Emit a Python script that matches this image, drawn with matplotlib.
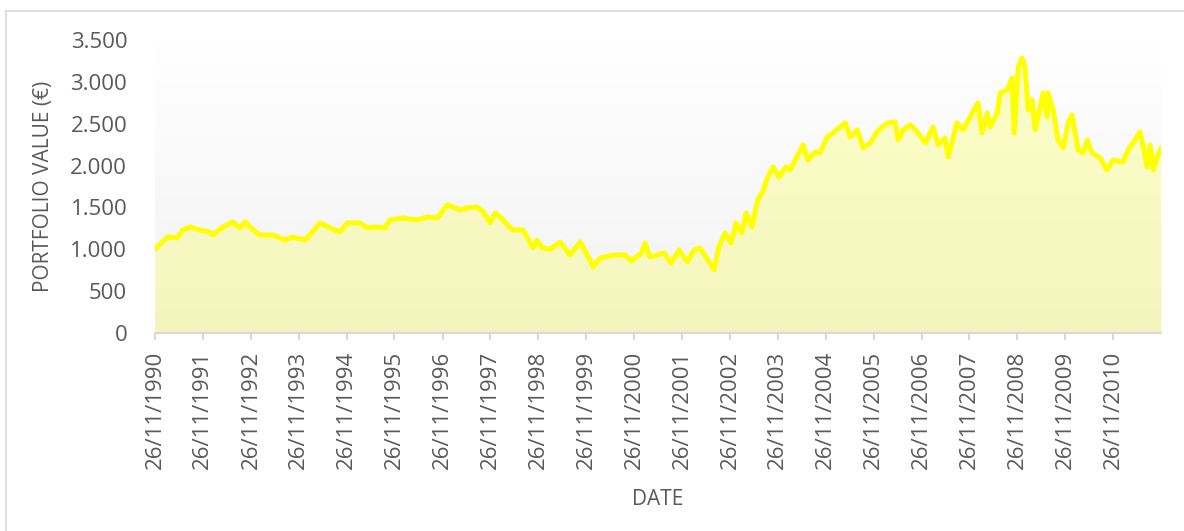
import numpy as np
import pandas as pd
import matplotlib
matplotlib.use("Agg")
import matplotlib.pyplot as plt
import matplotlib.dates as mdates
from matplotlib.ticker import FuncFormatter
from matplotlib.lines import Line2D

# ---- data ----
dates = [
    "1990-11-26", "1990-12-20", "1991-01-10", "1991-03-05", "1991-05-13", "1991-06-26",
    "1991-08-20", "1991-11-03", "1992-01-19", "1992-02-10", "1992-04-27", "1992-07-12",
    "1992-09-02", "1992-10-12", "1992-12-14", "1993-02-03", "1993-05-13", "1993-08-13",
    "1993-10-07", "1994-01-13", "1994-03-09", "1994-05-07", "1994-07-23", "1994-10-08",
    "1994-11-30", "1995-03-09", "1995-05-02", "1995-07-16", "1995-09-15", "1995-10-24",
    "1996-01-31", "1996-05-16", "1996-08-01", "1996-10-17", "1997-01-01", "1997-02-15",
    "1997-04-10", "1997-06-01", "1997-08-16", "1997-10-03", "1997-11-24", "1998-01-02",
    "1998-03-05", "1998-05-10", "1998-08-02", "1998-10-18", "1998-11-16", "1998-12-26",
    "1999-02-26", "1999-05-13", "1999-07-26", "1999-10-11", "1999-12-26", "2000-01-17",
    "2000-03-12", "2000-06-26", "2000-09-18", "2000-11-04", "2001-01-20", "2001-02-18",
    "2001-03-26", "2001-07-13", "2001-09-03", "2001-11-04", "2002-01-05", "2002-02-26",
    "2002-04-12", "2002-06-11", "2002-07-28", "2002-09-03", "2002-10-20", "2002-12-06",
    "2003-01-12", "2003-02-25", "2003-03-30", "2003-05-13", "2003-06-26", "2003-08-05",
    "2003-09-07", "2003-10-21", "2003-12-06", "2004-01-26", "2004-02-28", "2004-04-20",
    "2004-06-06", "2004-07-14", "2004-09-06", "2004-10-13", "2004-12-07", "2005-01-21",
    "2005-03-16", "2005-04-25", "2005-06-01", "2005-07-25", "2005-09-07", "2005-11-01",
    "2005-12-22", "2006-01-31", "2006-03-16", "2006-05-09", "2006-06-01", "2006-07-11",
    "2006-09-01", "2006-10-25", "2006-12-26", "2007-02-22", "2007-04-03", "2007-05-24",
    "2007-06-18", "2007-08-23", "2007-10-10", "2007-12-18", "2008-01-31", "2008-03-01",
    "2008-04-10", "2008-05-02", "2008-06-26", "2008-07-18", "2008-09-11", "2008-10-17",
    "2008-11-01", "2008-12-03", "2009-01-01", "2009-01-23", "2009-02-17", "2009-03-19",
    "2009-04-10", "2009-05-19", "2009-06-10", "2009-07-10", "2009-07-17", "2009-08-26",
    "2009-10-02", "2009-11-11", "2009-12-18", "2010-01-16", "2010-03-05", "2010-04-10",
    "2010-05-13", "2010-06-19", "2010-08-20", "2010-10-10", "2010-11-26", "2011-02-11",
    "2011-03-19", "2011-04-28", "2011-06-19", "2011-07-14", "2011-08-12", "2011-09-04",
    "2011-09-28", "2011-10-27", "2011-11-26",
]
values = [
    1000, 1040, 1070, 1150, 1135, 1230,
    1267, 1230, 1207, 1171, 1267, 1327,
    1255, 1327, 1231, 1171, 1171, 1111,
    1147, 1111, 1207, 1315, 1255, 1207,
    1315, 1315, 1255, 1267, 1255, 1350,
    1374, 1350, 1386, 1374, 1530, 1506,
    1470, 1494, 1506, 1446, 1315, 1434,
    1350, 1231, 1231, 1016, 1111, 1016,
    1000, 1087, 932, 1087, 872, 789,
    896, 932, 932, 860, 956, 1075,
    908, 956, 836, 992, 848, 992,
    1016, 872, 753, 1028, 1195, 1075,
    1315, 1195, 1434, 1267, 1589, 1690,
    1850, 1984, 1864, 1984, 1948, 2103,
    2247, 2067, 2163, 2151, 2342, 2390,
    2462, 2510, 2342, 2426, 2211, 2271,
    2402, 2462, 2510, 2522, 2307, 2426,
    2486, 2402, 2271, 2462, 2247, 2330,
    2103, 2510, 2426, 2629, 2749, 2390,
    2629, 2462, 2629, 2868, 2904, 3047,
    2390, 3179, 3286, 3179, 2665, 2785,
    2426, 2701, 2868, 2581, 2868, 2665,
    2307, 2211, 2510, 2605, 2187, 2151,
    2307, 2151, 2091, 1948, 2067, 2044,
    2187, 2271, 2402, 2223, 1984, 2247,
    1948, 2103, 2211,
]
tick_years = list(range(1990, 2011))
y_ticks = [0, 500, 1000, 1500, 2000, 2500, 3000, 3500]
x_label = "DATE"
y_label = "PORTFOLIO VALUE (€)"

# ---- figure ----
plt.rcParams["font.family"] = ["Open Sans", "DejaVu Sans"]
W, H = 1184, 531
fig = plt.figure(figsize=(W / 100, H / 100), dpi=100)
fig.patch.set_facecolor("white")

ax = fig.add_axes([155 / W, 1 - 333 / H, (1161 - 155) / W, (333 - 40) / H])

x = pd.to_datetime(dates)
xn = mdates.date2num(x)

# background gradient: white at top, light grey at bottom
grad = np.linspace(1.0, 242 / 255, 256).reshape(-1, 1)
grad_rgb = np.dstack([grad, grad, grad])
ax.imshow(grad_rgb, extent=[0, 1, 0, 1], transform=ax.transAxes,
          aspect="auto", zorder=0, interpolation="bilinear")

ax.fill_between(xn, 0, values, color="#ffff00", alpha=0.21, lw=0, zorder=1)
ax.plot(xn, values, color="#ffff00", lw=3.6, zorder=3,
        solid_joinstyle="round", solid_capstyle="round")

ax.set_xlim(mdates.date2num(pd.Timestamp("1990-11-26")), xn[-1])
ax.set_ylim(0, 3500)

for s in ["top", "right", "left"]:
    ax.spines[s].set_visible(False)
ax.spines["bottom"].set_color("#d9d9d9")
ax.spines["bottom"].set_linewidth(1.5)
ax.spines["bottom"].set_zorder(4)

tick_pos = [mdates.date2num(pd.Timestamp(f"{yy}-11-26")) for yy in tick_years]
ax.set_xticks(tick_pos)
ax.set_xticklabels([f"26/11/{yy}" for yy in tick_years], rotation=90,
                   fontsize=16, color="#595959")
ax.tick_params(axis="x", direction="out", length=5, width=1.5, color="#d9d9d9", pad=8)

ax.set_yticks(y_ticks)
ax.yaxis.set_major_formatter(FuncFormatter(lambda v, p: f"{int(v):,}".replace(",", ".")))
ax.tick_params(axis="y", length=0, pad=20, labelsize=16, labelcolor="#595959")

ax.set_xlabel(x_label, fontsize=15, color="#595959", labelpad=14)
ax.set_ylabel(y_label, fontsize=15, color="#595959", labelpad=12)

# chart border (left and top visible)
fig.add_artist(Line2D([5.5 / W, 5.5 / W], [0, 1 - 10.5 / H], transform=fig.transFigure,
                      color="#d9d9d9", lw=1.2))
fig.add_artist(Line2D([5.5 / W, 1], [1 - 10.5 / H, 1 - 10.5 / H], transform=fig.transFigure,
                      color="#d9d9d9", lw=1.2))

fig.savefig("out.png", dpi=100, facecolor="white")
